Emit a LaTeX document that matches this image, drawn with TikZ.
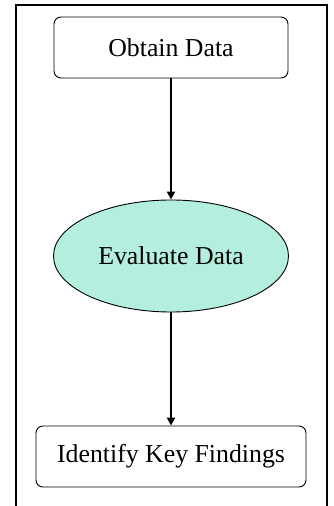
\documentclass[tikz,border=0pt]{standalone}
\usepackage{fontspec}
\setmainfont{Liberation Serif}
\usetikzlibrary{shapes.geometric,arrows.meta}
\definecolor{evalfill}{RGB}{180,238,222}
\begin{document}
\begin{tikzpicture}[x=1pt,y=1pt,
  stepbox/.style={draw=black, line width=0.9pt, rounded corners=7pt, fill=white},
  evalshape/.style={draw=black, line width=0.9pt, ellipse, fill=evalfill, inner sep=0pt},
  flow/.style={line width=2pt, -{Triangle[length=8pt,width=8pt]}},
  frameline/.style={line width=2pt},
  txt/.style={font=\fontsize{25.8}{30}\selectfont}]
\useasboundingbox (0,0) rectangle (333,506);
% frame
\coordinate (fbl) at (16,0);
\coordinate (ftl) at (16,501);
\coordinate (ftr) at (327,501);
\coordinate (fbr) at (327,0);
\draw[frameline] (fbl) -- (ftl) -- (ftr) -- (fbr);
% nodes
\node[stepbox, txt, minimum width=234pt, minimum height=61pt] (obtain) at (171,458.5) {Obtain Data};
\node[evalshape, txt, minimum width=235pt, minimum height=112pt] (evaluate) at (171,250) {Evaluate Data};
\node[stepbox, txt, minimum width=270pt, minimum height=61pt] (identify) at (171,49.5) {Identify Key Findings};
% connectors
\draw[flow] (obtain) -- (evaluate);
\draw[flow] (evaluate) -- (identify);
\end{tikzpicture}
\end{document}
